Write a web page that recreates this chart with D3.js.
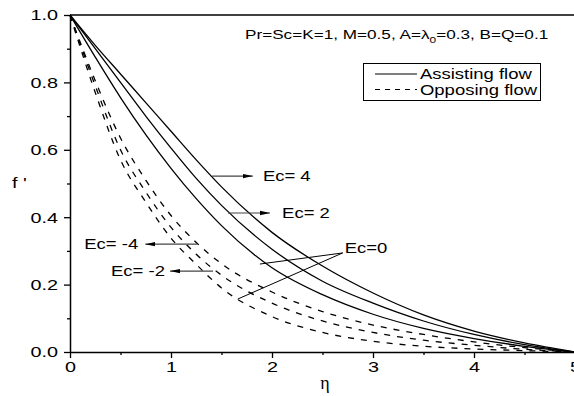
<!DOCTYPE html>
<html>
<head>
<meta charset="utf-8">
<script src="https://cdn.jsdelivr.net/npm/d3@7"></script>
<style>
  html, body { margin: 0; padding: 0; background: #fff; }
  svg { display: block; font-family: "Liberation Sans", Arial, sans-serif; }
</style>
</head>
<body>
<div id="chart"></div>
<script>
// velocity profiles f'(eta)
const eta = [0, 0.25, 0.5, 0.75, 1, 1.25, 1.5, 2, 2.5, 3, 3.5, 4, 4.5, 5];

// assisting flow (solid)
const assistEc4 = [1, 0.91, 0.825, 0.74, 0.655, 0.57, 0.49, 0.355, 0.255, 0.175, 0.11, 0.062, 0.027, 0];
const assistEc2 = [1, 0.90, 0.80, 0.70, 0.605, 0.515, 0.435, 0.305, 0.21, 0.145, 0.092, 0.052, 0.022, 0];
const assistEc0 = [1, 0.875, 0.755, 0.645, 0.545, 0.455, 0.375, 0.25, 0.17, 0.112, 0.07, 0.04, 0.017, 0];

// opposing flow (dashed)
const opposeEcM4 = [1, 0.805, 0.635, 0.51, 0.405, 0.325, 0.262, 0.178, 0.12, 0.08, 0.052, 0.03, 0.013, 0];
const opposeEcM2 = [1, 0.79, 0.60, 0.475, 0.37, 0.29, 0.228, 0.145, 0.092, 0.058, 0.035, 0.02, 0.008, 0];
const opposeEc0 = [1, 0.77, 0.57, 0.445, 0.338, 0.26, 0.19, 0.105, 0.058, 0.032, 0.017, 0.009, 0.004, 0];

const xTicks = [0, 1, 2, 3, 4, 5];
const yTicks = [0, 0.2, 0.4, 0.6, 0.8, 1.0];
const xMinor = [0.5, 1.5, 2.5, 3.5, 4.5];
const yMinor = [0.1, 0.3, 0.5, 0.7, 0.9];

// arrow labels: arrow from (x0,y) to (x1,y), text at tx
const arrowLabels = [
    { text: 'Ec= 4', x0: 1.406, x1: 1.81, y: 0.522, tx: 1.91, anchor: 'start' },
    { text: 'Ec= 2', x0: 1.564, x1: 1.98, y: 0.4125, tx: 2.10, anchor: 'start' },
    { text: 'Ec= -4', x0: 1.257, x1: 0.745, y: 0.32, tx: 0.675, anchor: 'end' },
    { text: 'Ec= -2', x0: 1.416, x1: 0.99, y: 0.24, tx: 0.94, anchor: 'end' }
];
// Ec=0 label with two pointer lines
const ec0Label = { text: 'Ec=0', x: 2.72, y: 0.294 };
const ec0Targets = [[1.88, 0.261], [1.66, 0.157]];

const width = 574, height = 396;
const SX = 1.32; // the figure's text is stretched horizontally

const svg = d3.select('#chart').append('svg')
    .attr('width', width)
    .attr('height', height);

const x = d3.scaleLinear().domain([0, 5]).range([70, 575]);
const y = d3.scaleLinear().domain([0, 1]).range([352, 15]);

function stretchedText(sel, px, py, str, size, anchor) {
    return sel.append('text')
        .attr('transform', `translate(${px},${py}) scale(${SX},1)`)
        .attr('font-size', size)
        .attr('text-anchor', anchor || 'start')
        .attr('fill', '#000')
        .text(str);
}

// top frame line
svg.append('line')
    .attr('x1', x(0)).attr('x2', x(5))
    .attr('y1', y(1)).attr('y2', y(1))
    .attr('stroke', '#000').attr('stroke-width', 1.5);
svg.append('line')
    .attr('x1', x(5)).attr('x2', x(5))
    .attr('y1', y(1)).attr('y2', y(0))
    .attr('stroke', '#000').attr('stroke-width', 1.5);

// minor ticks
svg.append('g')
    .attr('transform', `translate(0,${y(0)})`)
    .call(d3.axisBottom(x).tickValues(xMinor).tickSize(3).tickFormat(''))
    .call(g => g.select('.domain').remove())
    .selectAll('line').attr('stroke-width', 1.3);
svg.append('g')
    .attr('transform', `translate(${x(0)},0)`)
    .call(d3.axisLeft(y).tickValues(yMinor).tickSize(3).tickFormat(''))
    .call(g => g.select('.domain').remove())
    .selectAll('line').attr('stroke-width', 1.3);

// major axes
const xAxis = svg.append('g')
    .attr('transform', `translate(0,${y(0)})`)
    .call(d3.axisBottom(x).tickValues(xTicks).tickSize(6).tickSizeOuter(0).tickPadding(3).tickFormat(d3.format('d')));
const yAxis = svg.append('g')
    .attr('transform', `translate(${x(0)},0)`)
    .call(d3.axisLeft(y).tickValues(yTicks).tickSize(6).tickSizeOuter(0).tickPadding(3).tickFormat(d3.format('.1f')));

[xAxis, yAxis].forEach(ax => {
    ax.select('.domain').attr('stroke-width', 1.5);
    ax.selectAll('.tick line').attr('stroke-width', 1.3);
    ax.selectAll('.tick text')
        .attr('font-size', 15)
        .attr('font-family', '"Liberation Sans", Arial, sans-serif')
        .attr('fill', '#000');
});
xAxis.selectAll('.tick text').attr('transform', `scale(${SX},1)`);
yAxis.selectAll('.tick text').attr('transform', `scale(${SX},1)`);

// axis titles
stretchedText(svg, 12, 188, "f '", 15);
svg.append('text')
    .attr('x', 325).attr('y', 389)
    .attr('text-anchor', 'middle')
    .attr('font-family', '"Liberation Serif", "Times New Roman", serif')
    .attr('font-size', 18)
    .text('η');

// curves
const line = d3.line()
    .x((d, i) => x(eta[i]))
    .y(d => y(d))
    .curve(d3.curveMonotoneX);

const solidSeries = [assistEc4, assistEc2, assistEc0];
const dashedSeries = [opposeEcM4, opposeEcM2, opposeEc0];

svg.append('g').selectAll('path')
    .data(solidSeries)
    .enter()
    .append('path')
    .attr('d', line)
    .attr('fill', 'none')
    .attr('stroke', '#000')
    .attr('stroke-width', 1.3);

svg.append('g').selectAll('path')
    .data(dashedSeries)
    .enter()
    .append('path')
    .attr('d', line)
    .attr('fill', 'none')
    .attr('stroke', '#000')
    .attr('stroke-width', 1.3)
    .attr('stroke-dasharray', '6,7');

// arrow head marker
svg.append('defs').append('marker')
    .attr('id', 'arrow')
    .attr('markerUnits', 'userSpaceOnUse')
    .attr('viewBox', '0 -3 10 6')
    .attr('refX', 10).attr('refY', 0)
    .attr('markerWidth', 10).attr('markerHeight', 6)
    .attr('orient', 'auto')
    .append('path')
    .attr('d', 'M0,-2.2L10,0L0,2.2Z')
    .attr('fill', '#000');

arrowLabels.forEach(a => {
    svg.append('line')
        .attr('x1', x(a.x0)).attr('x2', x(a.x1))
        .attr('y1', y(a.y)).attr('y2', y(a.y))
        .attr('stroke', '#444')
        .attr('stroke-width', 1.2)
        .attr('marker-end', 'url(#arrow)');
    stretchedText(svg, x(a.tx), y(a.y) + 5, a.text, 14, a.anchor);
});

ec0Targets.forEach(t => {
    svg.append('line')
        .attr('x1', x(ec0Label.x) - 2).attr('y1', y(ec0Label.y))
        .attr('x2', x(t[0])).attr('y2', y(t[1]))
        .attr('stroke', '#000')
        .attr('stroke-width', 1);
});
stretchedText(svg, x(ec0Label.x), y(ec0Label.y) + 0, ec0Label.text, 14);

// parameter text
const params = svg.append('text')
    .attr('transform', `translate(245,39) scale(${SX},1)`)
    .attr('font-size', 13)
    .attr('fill', '#000');
params.append('tspan').text('Pr=Sc=K=1, M=0.5, A=λ');
params.append('tspan').attr('font-size', 9).attr('dy', 4).text('0');
params.append('tspan').attr('dy', -4).text('=0.3, B=Q=0.1');

// legend
const legend = svg.append('g');
legend.append('rect')
    .attr('x', 363.5).attr('y', 63.5)
    .attr('width', 177).attr('height', 37)
    .attr('fill', 'none')
    .attr('stroke', '#000')
    .attr('stroke-width', 1);
legend.append('line')
    .attr('x1', 375).attr('x2', 417)
    .attr('y1', 74).attr('y2', 74)
    .attr('stroke', '#000').attr('stroke-width', 1.2);
legend.append('line')
    .attr('x1', 375).attr('x2', 417)
    .attr('y1', 89.5).attr('y2', 89.5)
    .attr('stroke', '#000').attr('stroke-width', 1.2)
    .attr('stroke-dasharray', '5,5');
stretchedText(legend, 420, 79, 'Assisting flow', 14);
stretchedText(legend, 420, 95, 'Opposing flow', 14);
</script>
</body>
</html>
